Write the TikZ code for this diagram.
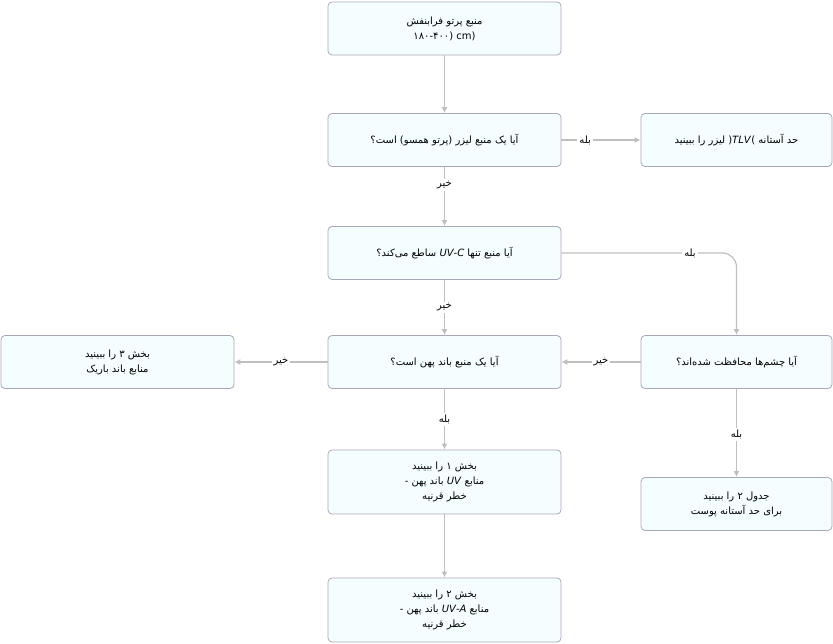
\documentclass[tikz,border=0pt]{standalone}
\usetikzlibrary{arrows.meta}
\usepackage{fontspec}
\newfontfamily\fa[Script=Arabic]{DejaVu Sans}
\TeXXeTstate=1
\newcommand\rl[1]{\beginR#1\endR}
\newcommand\lt[1]{\beginL#1\endL}
\begin{document}
\begin{tikzpicture}[x=1pt,y=-1pt,
  box/.style={draw=black!25!blue!15!gray!60, fill=blue!9!cyan!4!white, rounded corners=4pt, line width=0.8pt,
     minimum width=233pt, minimum height=53pt, align=center, font=\fa\fontsize{10}{15}\selectfont, inner sep=2pt},
  sbox/.style={box, minimum width=191pt},
  arr/.style={draw=black!25, line width=1.2pt, -{Latex[length=6pt,width=6pt]}},
  lab/.style={fill=white, font=\fa\fontsize{10}{12}\selectfont, inner sep=2pt}]
\useasboundingbox (0,0) rectangle (833,644);
\node[box] (a) at (444.5,28.5) {\rl{منبع پرتو فرابنفش}\\ (۱۸۰-۴۰۰ cm)};
\node[box] (b) at (444.5,140) {\rl{آیا یک منبع لیزر (پرتو همسو) است؟}};
\node[sbox] (c) at (736.5,140) {\rl{حد آستانه \lt{(\textit{TLV})} لیزر را ببینید}};
\node[box] (d) at (444.5,253) {\rl{آیا منبع تنها \lt{\textit{UV-C}} ساطع می‌کند؟}};
\node[box] (e) at (444.5,362) {\rl{آیا یک منبع باند پهن است؟}};
\node[box] (f) at (117.5,362) {\rl{بخش ۳ را ببینید}\\ \rl{منابع باند باریک}};
\node[sbox] (g) at (736.5,362) {\rl{آیا چشم‌ها محافظت شده‌اند؟}};
\node[box, minimum height=64pt] (h) at (444.5,482) {\rl{بخش ۱ را ببینید}\\ \rl{منابع \lt{\textit{UV}} باند پهن -}\\ \rl{خطر قرنیه}};
\node[sbox] (i) at (736.5,504) {\rl{جدول ۲ را ببینید}\\ \rl{برای حد آستانه پوست}};
\node[box, minimum height=64pt] (j) at (444.5,610) {\rl{بخش ۲ را ببینید}\\ \rl{منابع \lt{\textit{UV-A}} باند پهن -}\\ \rl{خطر قرنیه}};
\coordinate (dk) at (736.5,253);
\draw[arr] (a) -- (b);
\draw[arr] (b) -- node[lab,pos=0.3]{\rl{بله}} (c);
\draw[arr] (b) -- node[lab,pos=0.3]{\rl{خیر}} (d);
\draw[arr] (d) -- node[lab,pos=0.5]{\rl{خیر}} (e);
\draw[arr,rounded corners=14pt] (d.east) -- (dk) -- (g);
\node[lab] at (690,253) {\rl{بله}};
\draw[arr] (e) -- node[lab,pos=0.5]{\rl{خیر}} (f);
\draw[arr] (g) -- node[lab,pos=0.5]{\rl{خیر}} (e);
\draw[arr] (e) -- node[lab,pos=0.5]{\rl{بله}} (h);
\draw[arr] (g) -- node[lab,pos=0.52]{\rl{بله}} (i);
\draw[arr] (h) -- (j);
\end{tikzpicture}
\end{document}
